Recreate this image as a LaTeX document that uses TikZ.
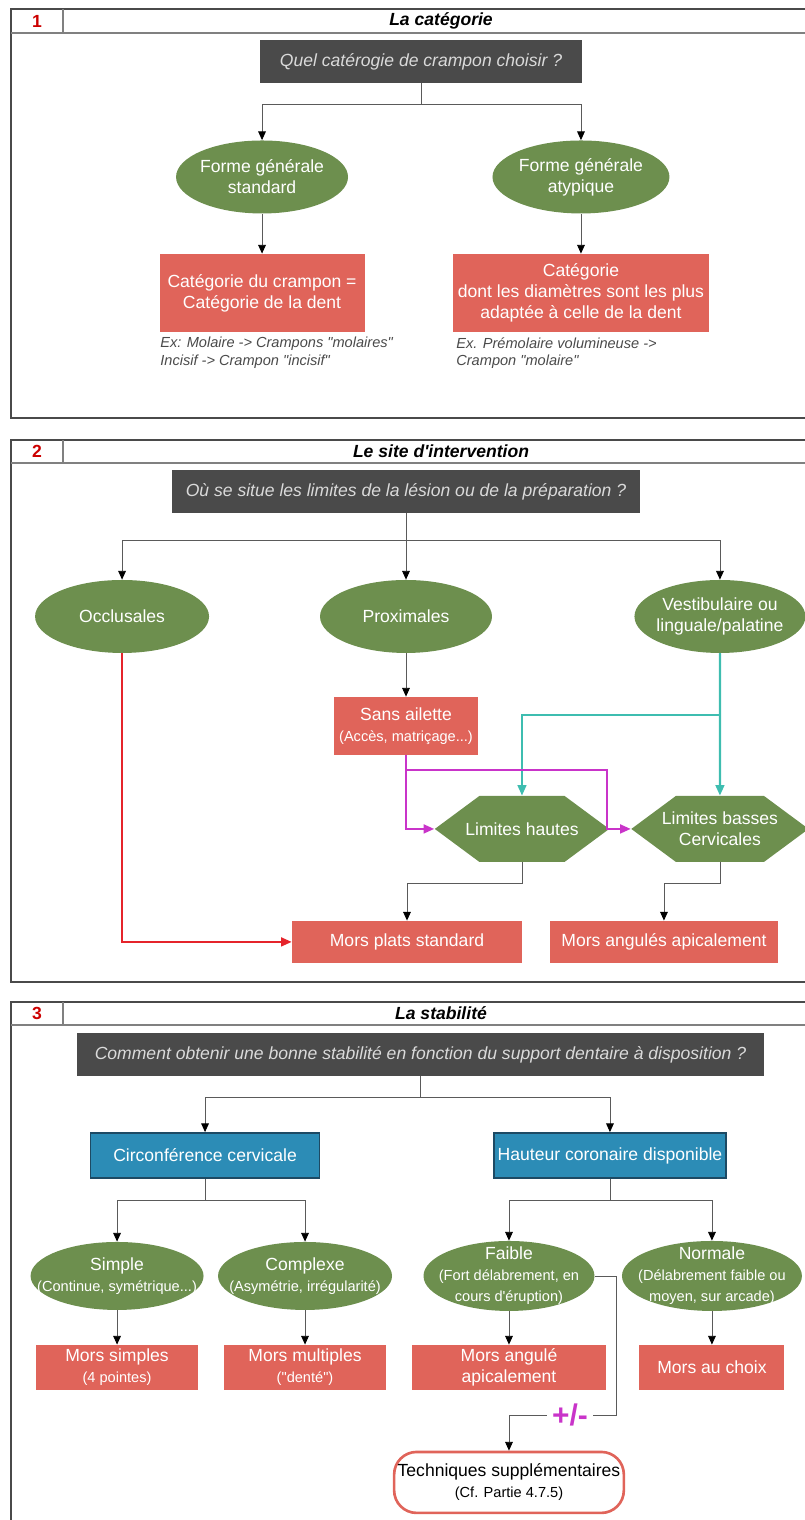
\documentclass[tikz,border=0pt]{standalone}
\usepackage{fontspec}
\setmainfont{Liberation Sans}
\usetikzlibrary{shapes.geometric,shapes.symbols,arrows.meta}

\definecolor{gris}{HTML}{4A4A4A}
\definecolor{grisclair}{HTML}{DADADA}
\definecolor{trait}{HTML}{5A5A5A}
\definecolor{vert}{HTML}{6D8F4E}
\definecolor{rouge}{HTML}{E0645A}
\definecolor{bleu}{HTML}{2C8CB6}
\definecolor{bleufonce}{HTML}{1D4A64}
\definecolor{turquoise}{HTML}{3EBDB0}
\definecolor{mauve}{HTML}{C934C9}
\definecolor{rougevif}{HTML}{E5242B}

\newcommand{\petit}{\fontsize{8.3}{10}\selectfont}
\newcommand{\gd}{\textquotedbl}

\begin{document}
\begin{tikzpicture}
[ x=0.02cm, y=-0.02cm
, every node/.style={align=center, font=\fontsize{10}{12}\selectfont, inner sep=2pt}
, question/.style={fill=gris, text=grisclair, font=\fontsize{10}{12}\selectfont\itshape, minimum height=0.86cm}
, choix/.style={ellipse, fill=vert, text=white, inner xsep=-0.4cm, inner ysep=-0.1cm, minimum width=3.44cm, minimum height=1.46cm}
, resultat/.style={fill=rouge, text=white}
, critere/.style={fill=bleu, draw=bleufonce, line width=1pt, text=white, minimum width=4.58cm, minimum height=0.9cm}
, limite/.style={signal, signal to=west and east, signal pointer angle=73, fill=vert, text=white, inner xsep=-8pt, inner ysep=0pt, minimum width=2cm, minimum height=1.32cm}
, note/.style={anchor=north west, align=left, font=\fontsize{8.3}{9.8}\selectfont\itshape, text=gris, inner sep=0pt}
, technique/.style={draw=rouge, line width=1.5pt, fill=white, rounded corners=0.45cm, minimum width=4.5cm, minimum height=1.22cm}
, numero/.style={text=red!80!black, font=\fontsize{10}{12}\selectfont\bfseries}
, titre/.style={font=\fontsize{10}{12}\selectfont\bfseries\itshape}
, cadre/.style={draw=gris, line width=1pt}
, entete/.style={draw=gray, line width=0.8pt}
, fleche/.style={draw=trait, line width=0.5pt, -{Triangle[length=5pt,width=4.4pt,color=black]}}
, node distance=2cm
]

\useasboundingbox (0,0) rectangle (804,1520);

% 1
\draw[cadre] (11,9) rectangle (830,418);
\draw[entete] (11,33) -- (830,33) (63,9) -- (63,33);
\node[numero] (n1) at (37,21) {1};
\node[titre] (t1) at (441,21) {La catégorie};

\node[question, minimum width=6.44cm] (q1) at (421,61.5) {Quel catérogie de crampon choisir ?};

\node[choix, node distance=2.31cm, below of=q1, xshift=-3.18cm] (standard) {Forme générale\\standard};
\node[choix, minimum width=3.54cm, node distance=2.31cm, below of=q1, xshift=3.2cm] (atypique) {Forme générale\\atypique};

\node[resultat, minimum width=4.1cm, minimum height=1.56cm, node distance=2.32cm, below of=standard] (catdent) {Catégorie du crampon =\\Catégorie de la dent};
\node[resultat, minimum width=5.12cm, minimum height=1.56cm, node distance=2.32cm, below of=atypique] (catdiam) {Catégorie\\dont les diamètres sont les plus\\adaptée à celle de la dent};

\node[note] (exdent) at (160,337) {Ex: Molaire -> Crampons \gd molaires\gd\\Incisif -> Crampon \gd incisif\gd};
\node[note] (exdiam) at (456,337) {Ex. Prémolaire volumineuse ->\\Crampon \gd molaire\gd};

\draw[fleche] (q1.south) -- ++(0,21.5) -| (standard.north);
\draw[fleche] (q1.south) -- ++(0,21.5) -| (atypique.north);
\draw[fleche] (standard) -- (catdent);
\draw[fleche] (atypique) -- (catdiam);

% 2
\draw[cadre] (11,440) rectangle (830,982);
\draw[entete] (11,463) -- (830,463) (63,440) -- (63,463);
\node[numero] (n2) at (37,451.5) {2};
\node[titre] (t2) at (441,451.5) {Le site d\textquotesingle intervention};

\node[question, minimum width=9.38cm] (q2) at (406,491.5) {Où se situe les limites de la lésion ou de la préparation ?};

\node[choix, minimum width=3.48cm, node distance=2.5cm, below of=q2, xshift=-5.68cm] (occlusales) {Occlusales};
\node[choix, node distance=2.5cm, below of=q2] (proximales) {Proximales};
\node[choix, minimum width=3.42cm, node distance=2.5cm, below of=q2, xshift=6.28cm] (vestibulaire) {Vestibulaire ou\\linguale/palatine};

\node[resultat, minimum width=2.9cm, minimum height=1.16cm, node distance=2.19cm, below of=proximales] (ailette) {Sans ailette\\{\petit (Accès, matriçage...)}};

\node[limite, node distance=2.06cm, below of=ailette, xshift=2.32cm] (hautes) {Limites hautes};
\node[limite, minimum width=2.06cm, node distance=3.96cm, right of=hautes] (basses) {Limites basses\\Cervicales};

\node[resultat, minimum width=4.6cm, minimum height=0.84cm, node distance=2.26cm, below of=hautes, xshift=-2.3cm] (plats) {Mors plats standard};
\node[resultat, minimum width=4.56cm, minimum height=0.84cm, node distance=5.14cm, right of=plats] (angules) {Mors angulés apicalement};

\draw[fleche] (q2.south) -- ++(0,27) -| (occlusales.north);
\draw[fleche] (q2.south) -- (proximales.north);
\draw[fleche] (q2.south) -- ++(0,27) -| (vestibulaire.north);
\draw[fleche] (proximales) -- (ailette);

\draw[turquoise, line width=1.2pt, -{Triangle[length=6pt,width=5pt]}] (vestibulaire.south) -- ++(0,62) -| (hautes.north);
\draw[turquoise, line width=1.2pt, -{Triangle[length=6pt,width=5pt]}] (vestibulaire.south) -- (basses.north);

\draw[mauve, line width=1.2pt, -{Triangle[length=6pt,width=5pt]}] (ailette.south) |- (hautes.west);
\draw[mauve, line width=1.2pt, -{Triangle[length=6pt,width=5pt]}] (ailette.south) -- ++(0,15) -- ++(201,0) |- (basses.west);

\draw[fleche] (hautes.south) -- ++(0,21) -| (plats.north);
\draw[fleche] (basses.south) -- ++(0,21) -| (angules.north);

\draw[rougevif, line width=1.2pt, -{Triangle[length=6pt,width=5pt]}] (occlusales.south) |- (plats.west);

% 3
\draw[cadre] (11,1002) rectangle (830,1580);
\draw[entete] (11,1025) -- (830,1025) (63,1002) -- (63,1025);
\node[numero] (n3) at (37,1013.5) {3};
\node[titre] (t3) at (441,1013.5) {La stabilité};

\node[question, minimum width=13.74cm] (q3) at (420.5,1054.5) {Comment obtenir une bonne stabilité en fonction du support dentaire à disposition ?};

\node[critere, node distance=2.02cm, below of=q3, xshift=-4.31cm] (circonference) {Circonférence cervicale};
\node[critere, node distance=2.02cm, below of=q3, xshift=3.79cm] (hauteur) {Hauteur coronaire disponible};

\node[choix, minimum width=3.46cm, minimum height=1.36cm, node distance=2.41cm, below of=circonference, xshift=-1.76cm] (simple) {Simple\\{\petit (Continue, symétrique...)}};
\node[choix, minimum width=3.48cm, minimum height=1.36cm, node distance=2.41cm, below of=circonference, xshift=2cm] (complexe) {Complexe\\{\petit (Asymétrie, irrégularité)}};
\node[choix, minimum width=3.42cm, minimum height=1.4cm, node distance=2.41cm, below of=hauteur, xshift=-2.02cm] (faible) {Faible\\{\petit (Fort délabrement, en}\\{\petit cours d\textquotesingle éruption)}};
\node[choix, minimum width=3.6cm, minimum height=1.4cm, node distance=2.41cm, below of=hauteur, xshift=2.04cm] (normale) {Normale\\{\petit (Délabrement faible ou}\\{\petit moyen, sur arcade)}};

\node[resultat, minimum width=3.24cm, minimum height=0.9cm, node distance=1.83cm, below of=simple] (msimples) {Mors simples\\{\petit (4 pointes)}};
\node[resultat, minimum width=3.24cm, minimum height=0.9cm, node distance=1.83cm, below of=complexe] (mmultiples) {Mors multiples\\{\petit (\gd denté\gd)}};
\node[resultat, minimum width=3.88cm, minimum height=0.9cm, node distance=1.83cm, below of=faible] (mangule) {Mors angulé\\apicalement};
\node[resultat, minimum width=2.9cm, minimum height=0.9cm, node distance=1.83cm, below of=normale] (mchoix) {Mors au choix};

\node[technique, node distance=2.3cm, below of=mangule] (techniques) {Techniques supplémentaires\\{\petit (Cf. Partie 4.7.5)}};
\node[text=mauve, font=\fontsize{17}{17}\selectfont\bfseries, inner sep=3pt] (pm) at (570,1415) {+/-};

\draw[fleche] (q3.south) -- ++(0,21.5) -| (circonference.north);
\draw[fleche] (q3.south) -- ++(0,21.5) -| (hauteur.north);
\draw[fleche] (circonference.south) -- ++(0,22) -| (simple.north);
\draw[fleche] (circonference.south) -- ++(0,22) -| (complexe.north);
\draw[fleche] (hauteur.south) -- ++(0,22) -| (faible.north);
\draw[fleche] (hauteur.south) -- ++(0,22) -| (normale.north);
\draw[fleche] (simple) -- (msimples);
\draw[fleche] (complexe) -- (mmultiples);
\draw[fleche] (faible) -- (mangule);
\draw[fleche] (normale) -- (mchoix);

\draw[trait, line width=0.5pt] (faible.east) -- ++(22,0) |- (pm.east);
\draw[fleche] (pm.west) -| (techniques.north);

\end{tikzpicture}
\end{document}
